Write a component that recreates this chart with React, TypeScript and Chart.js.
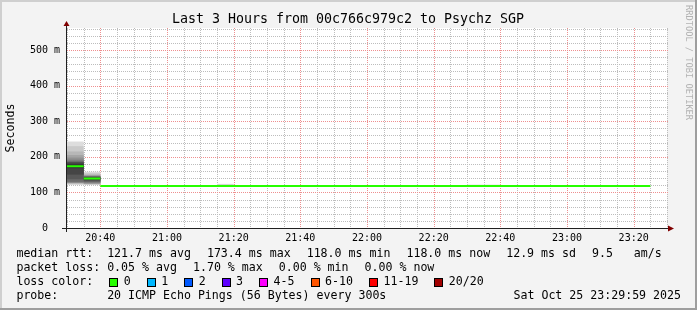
import React, { useEffect, useRef } from 'react';
import { Chart, registerables } from 'chart.js';

Chart.register(...registerables);

// ---------- text ----------
const TITLE = 'Last 3 Hours from 00c766c979c2 to Psychz SGP';
const Y_AXIS_TITLE = 'Seconds';
const WATERMARK = 'RRDTOOL / TOBI OETIKER';
const LEGEND_RTT = ['median rtt:  121.7 ms avg', '173.4 ms max', '118.0 ms min', '118.0 ms now', '12.9 ms sd', '9.5   am/s'];
const LEGEND_LOSS = ['packet loss: 0.05 % avg', '1.70 % max', '0.00 % min', '0.00 % now'];
const LOSS_COLOR_TITLE = 'loss color:';
const LOSS_LABELS = ['0', '1', '2', '3', '4-5', '6-10', '11-19', '20/20'];
const LOSS_COLORS = ['#26ff00', '#00b8ff', '#0059ff', '#5e00ff', '#ff00ff', '#ff5500', '#ff0000', '#a10000'];
const PROBE_TEXT = 'probe:       20 ICMP Echo Pings (56 Bytes) every 300s';
const DATE_TEXT = 'Sat Oct 25 23:29:59 2025';

// ---------- axes (time in minutes since midnight, values in ms) ----------
const X_MIN = 1230; // 20:30
const X_MAX = 1410; // 23:30
const STEP_MIN = 5;
const X_MAJOR_MIN = 20;
const X_TICK_MINUTES = [1240, 1260, 1280, 1300, 1320, 1340, 1360, 1380, 1400];
const X_TICK_LABELS = ['20:40', '21:00', '21:20', '21:40', '22:00', '22:20', '22:40', '23:00', '23:20'];
const Y_MAX = 562;
const Y_MINOR_STEP = 20;
const Y_MAJOR_STEP = 100;
const Y_TICK_VALUES = [0, 100, 200, 300, 400, 500];
const Y_TICK_LABELS = ['0  ', '100 m', '200 m', '300 m', '400 m', '500 m'];

// ---------- data ----------
const MEDIAN_FIRST_START = 1230;
const MEDIAN_MS = [
  173.4, 139.0, 118.0, 118.0, 118.0, 118.0, 118.0, 118.0, 118.0, 118.0,
  118.0, 118.0, 118.0, 118.0, 118.0, 118.0, 118.0, 118.0, 118.0, 118.0,
  118.0, 118.0, 118.0, 118.0, 118.0, 118.0, 118.0, 118.0, 118.0, 118.0,
  118.0, 118.0, 118.0, 118.0, 118.0,
];

const SMOKE_START = [1230, 1235, 1275, 1350, 1355];
const SMOKE_PINGS = [
  [121, 123, 125, 126, 127, 128, 130, 137, 150, 168, 179, 184, 186, 187, 192, 198, 205, 215, 230, 243],
  [121, 122, 123, 124, 125, 127, 129, 131, 134, 137, 141, 143, 144, 145, 146, 147, 149, 151, 155, 158],
  [118, 118, 118, 118, 118, 118, 118, 118, 118, 118, 118, 118, 118, 118, 118, 118, 118, 118, 122, 124],
  [118, 118, 118, 118, 118, 118, 118, 118, 118, 118, 118, 118, 118, 118, 118, 118, 118, 118, 118, 122],
  [118, 118, 118, 118, 118, 118, 118, 118, 118, 118, 118, 118, 118, 118, 118, 118, 118, 118, 118, 122],
];

const MONO = '"DejaVu Sans Mono", monospace';
const GRID_GRAY = '#bdbdbd';
const GRID_RED = '#ee8f8f';

const rrdPlugin = {
  id: 'rrdFrame',
  beforeDraw(chart: any) {
    const { ctx, width, height, chartArea: a } = chart;
    ctx.save();
    ctx.fillStyle = '#f3f3f3';
    ctx.fillRect(0, 0, width, height);
    ctx.fillStyle = '#cfcfcf';
    ctx.fillRect(0, 0, width, 2);
    ctx.fillRect(0, 0, 2, height);
    ctx.fillStyle = '#9e9e9e';
    ctx.fillRect(0, height - 2, width, 2);
    ctx.fillRect(width - 2, 0, 2, height);
    ctx.fillStyle = '#ffffff';
    ctx.fillRect(a.left, a.top, a.right - a.left, a.bottom - a.top);
    ctx.restore();
  },
  beforeDatasetsDraw(chart: any) {
    const { ctx, chartArea: a } = chart;
    const xs = chart.scales.x;
    const ys = chart.scales.y;
    const top = Math.round(a.top);
    const bottom = Math.round(a.bottom);
    const left = Math.round(a.left);
    const right = Math.round(a.right);
    ctx.save();
    // vertical dotted lines
    for (let v = X_MIN; v <= X_MAX; v += STEP_MIN) {
      const px = Math.min(Math.round(xs.getPixelForValue(v)), right);
      ctx.fillStyle = v % X_MAJOR_MIN === 0 ? GRID_RED : GRID_GRAY;
      for (let y = top; y < bottom; y += 2) ctx.fillRect(px, y, 1, 1);
    }
    // horizontal dotted lines
    for (let v = Y_MINOR_STEP; v <= Y_MAX; v += Y_MINOR_STEP) {
      const py = Math.round(ys.getPixelForValue(v));
      ctx.fillStyle = v % Y_MAJOR_STEP === 0 ? GRID_RED : GRID_GRAY;
      for (let x = left; x <= right + 1; x += 2) ctx.fillRect(x, py, 1, 1);
    }
    ctx.restore();
  },
  afterDraw(chart: any) {
    const { ctx, chartArea: a } = chart;
    const xs = chart.scales.x;
    const ys = chart.scales.y;
    const x0 = Math.round(xs.getPixelForValue(X_MIN)) - 1;
    const y0 = Math.round(ys.getPixelForValue(0));
    ctx.save();
    // axes
    ctx.fillStyle = '#202020';
    ctx.fillRect(x0 - 4, y0, a.right - x0 + 5, 1);
    ctx.fillRect(x0, a.top - 3, 1, y0 - a.top + 7);
    ctx.fillStyle = '#800000';
    ctx.beginPath();
    ctx.moveTo(x0 + 0.5, a.top - 7);
    ctx.lineTo(x0 - 2.5, a.top - 2);
    ctx.lineTo(x0 + 3.5, a.top - 2);
    ctx.closePath();
    ctx.fill();
    ctx.beginPath();
    ctx.moveTo(a.right + 7, y0 + 0.5);
    ctx.lineTo(a.right + 1, y0 - 2.5);
    ctx.lineTo(a.right + 1, y0 + 3.5);
    ctx.closePath();
    ctx.fill();

    // title
    ctx.fillStyle = '#000';
    ctx.textBaseline = 'middle';
    ctx.textAlign = 'center';
    ctx.font = `13.3px ${MONO}`;
    ctx.fillText(TITLE, 348, 20);

    // y axis title
    ctx.font = `11.6px ${MONO}`;
    ctx.save();
    ctx.translate(11, (a.top + a.bottom) / 2);
    ctx.rotate(-Math.PI / 2);
    ctx.fillText(Y_AXIS_TITLE, 0, 0);
    ctx.restore();

    // watermark
    ctx.save();
    ctx.fillStyle = '#b2b2b2';
    ctx.font = `8.7px ${MONO}`;
    ctx.textAlign = 'left';
    ctx.translate(688.5, 5);
    ctx.rotate(Math.PI / 2);
    ctx.fillText(WATERMARK, 0, 0);
    ctx.restore();

    // legend
    ctx.textAlign = 'left';
    ctx.font = `11.6px ${MONO}`;
    const gap = 16;
    const left = 16.4;
    const row = (items: string[], y: number) => {
      let x = left;
      items.forEach((t) => {
        ctx.fillText(t, x, y);
        x += ctx.measureText(t).width + gap;
      });
    };
    row(LEGEND_RTT, 254);
    row(LEGEND_LOSS, 268);
    let x = left;
    ctx.fillText(LOSS_COLOR_TITLE, x, 282);
    x += ctx.measureText(LOSS_COLOR_TITLE).width + gap;
    LOSS_LABELS.forEach((lab, i) => {
      const bx = Math.round(x);
      ctx.fillStyle = LOSS_COLORS[i];
      ctx.fillRect(bx, 278, 9, 9);
      ctx.strokeStyle = '#000';
      ctx.lineWidth = 1;
      ctx.strokeRect(bx + 0.5, 278.5, 8, 8);
      ctx.fillStyle = '#000';
      ctx.fillText(lab, x + 14.5, 282);
      x += 14.5 + ctx.measureText(lab).width + gap;
    });
    ctx.fillText(PROBE_TEXT, left, 296);
    ctx.textAlign = 'right';
    ctx.fillText(DATE_TEXT, 681, 296);
    ctx.restore();
  },
};

export default function App() {
  const ref = useRef<HTMLCanvasElement | null>(null);

  useEffect(() => {
    if (!ref.current) return;

    const smokeSets: any[] = [];
    for (let k = 0; k < 10; k++) {
      const g = Math.round((190 / 10) * (10 - (k + 1))) + 50;
      const data: any[] = [];
      SMOKE_START.forEach((s, i) => {
        const lo = SMOKE_PINGS[i][k];
        const hi = SMOKE_PINGS[i][19 - k];
        if (hi > lo) data.push({ x: s + STEP_MIN / 2, y: [lo, hi] });
      });
      smokeSets.push({
        type: 'bar',
        data,
        backgroundColor: `rgb(${g},${g},${g})`,
        borderWidth: 0,
        barPercentage: 1,
        categoryPercentage: 1,
        grouped: false,
        inflateAmount: 0,
        order: 20 - k,
      });
    }

    const medianData: any[] = [];
    MEDIAN_MS.forEach((m, i) => {
      const s = MEDIAN_FIRST_START + i * STEP_MIN;
      medianData.push({ x: s, y: m });
      medianData.push({ x: s + STEP_MIN, y: m });
      medianData.push({ x: s + STEP_MIN, y: null });
    });

    const chart = new Chart(ref.current, {
      type: 'bar',
      data: {
        datasets: [
          {
            type: 'line',
            data: medianData,
            borderColor: LOSS_COLORS[0],
            borderWidth: 2,
            borderCapStyle: 'butt',
            pointRadius: 0,
            spanGaps: false,
            fill: false,
            order: 0,
          } as any,
          ...smokeSets,
        ],
      },
      options: {
        responsive: false,
        animation: false,
        events: [],
        layout: { padding: { left: 0, right: 30, top: 28, bottom: 0 } },
        plugins: { legend: { display: false }, tooltip: { enabled: false }, title: { display: false } },
        scales: {
          x: {
            type: 'linear',
            min: X_MIN,
            max: X_MAX,
            offset: false,
            afterFit: (s: any) => { s.height = 82; },
            afterBuildTicks: (s: any) => {
              s.ticks = X_TICK_MINUTES.map((v) => ({ value: v }));
            },
            ticks: {
              autoSkip: false,
              maxRotation: 0,
              minRotation: 0,
              padding: 4,
              color: '#000',
              font: { family: MONO, size: 10 },
              callback: (v: any) => {
                const i = X_TICK_MINUTES.indexOf(Number(v));
                return i >= 0 ? X_TICK_LABELS[i] : '';
              },
            },
            grid: { display: false, offset: false, drawTicks: false },
            border: { display: false },
          },
          y: {
            type: 'linear',
            min: 0,
            max: Y_MAX,
            afterFit: (s: any) => { s.width = 67; },
            afterBuildTicks: (s: any) => {
              s.ticks = Y_TICK_VALUES.map((v) => ({ value: v }));
            },
            ticks: {
              autoSkip: false,
              padding: 7,
              color: '#000',
              font: { family: MONO, size: 10 },
              callback: (v: any) => {
                const i = Y_TICK_VALUES.indexOf(Number(v));
                return i >= 0 ? Y_TICK_LABELS[i] : '';
              },
            },
            grid: { display: false, drawTicks: false },
            border: { display: false },
          },
        },
      } as any,
      plugins: [rrdPlugin],
    });

    return () => chart.destroy();
  }, []);

  return (
    <div style={{ position: 'fixed', left: 0, top: 0, width: 697, height: 310 }}>
      <canvas ref={ref} width={697} height={310} style={{ display: 'block' }} />
    </div>
  );
}
